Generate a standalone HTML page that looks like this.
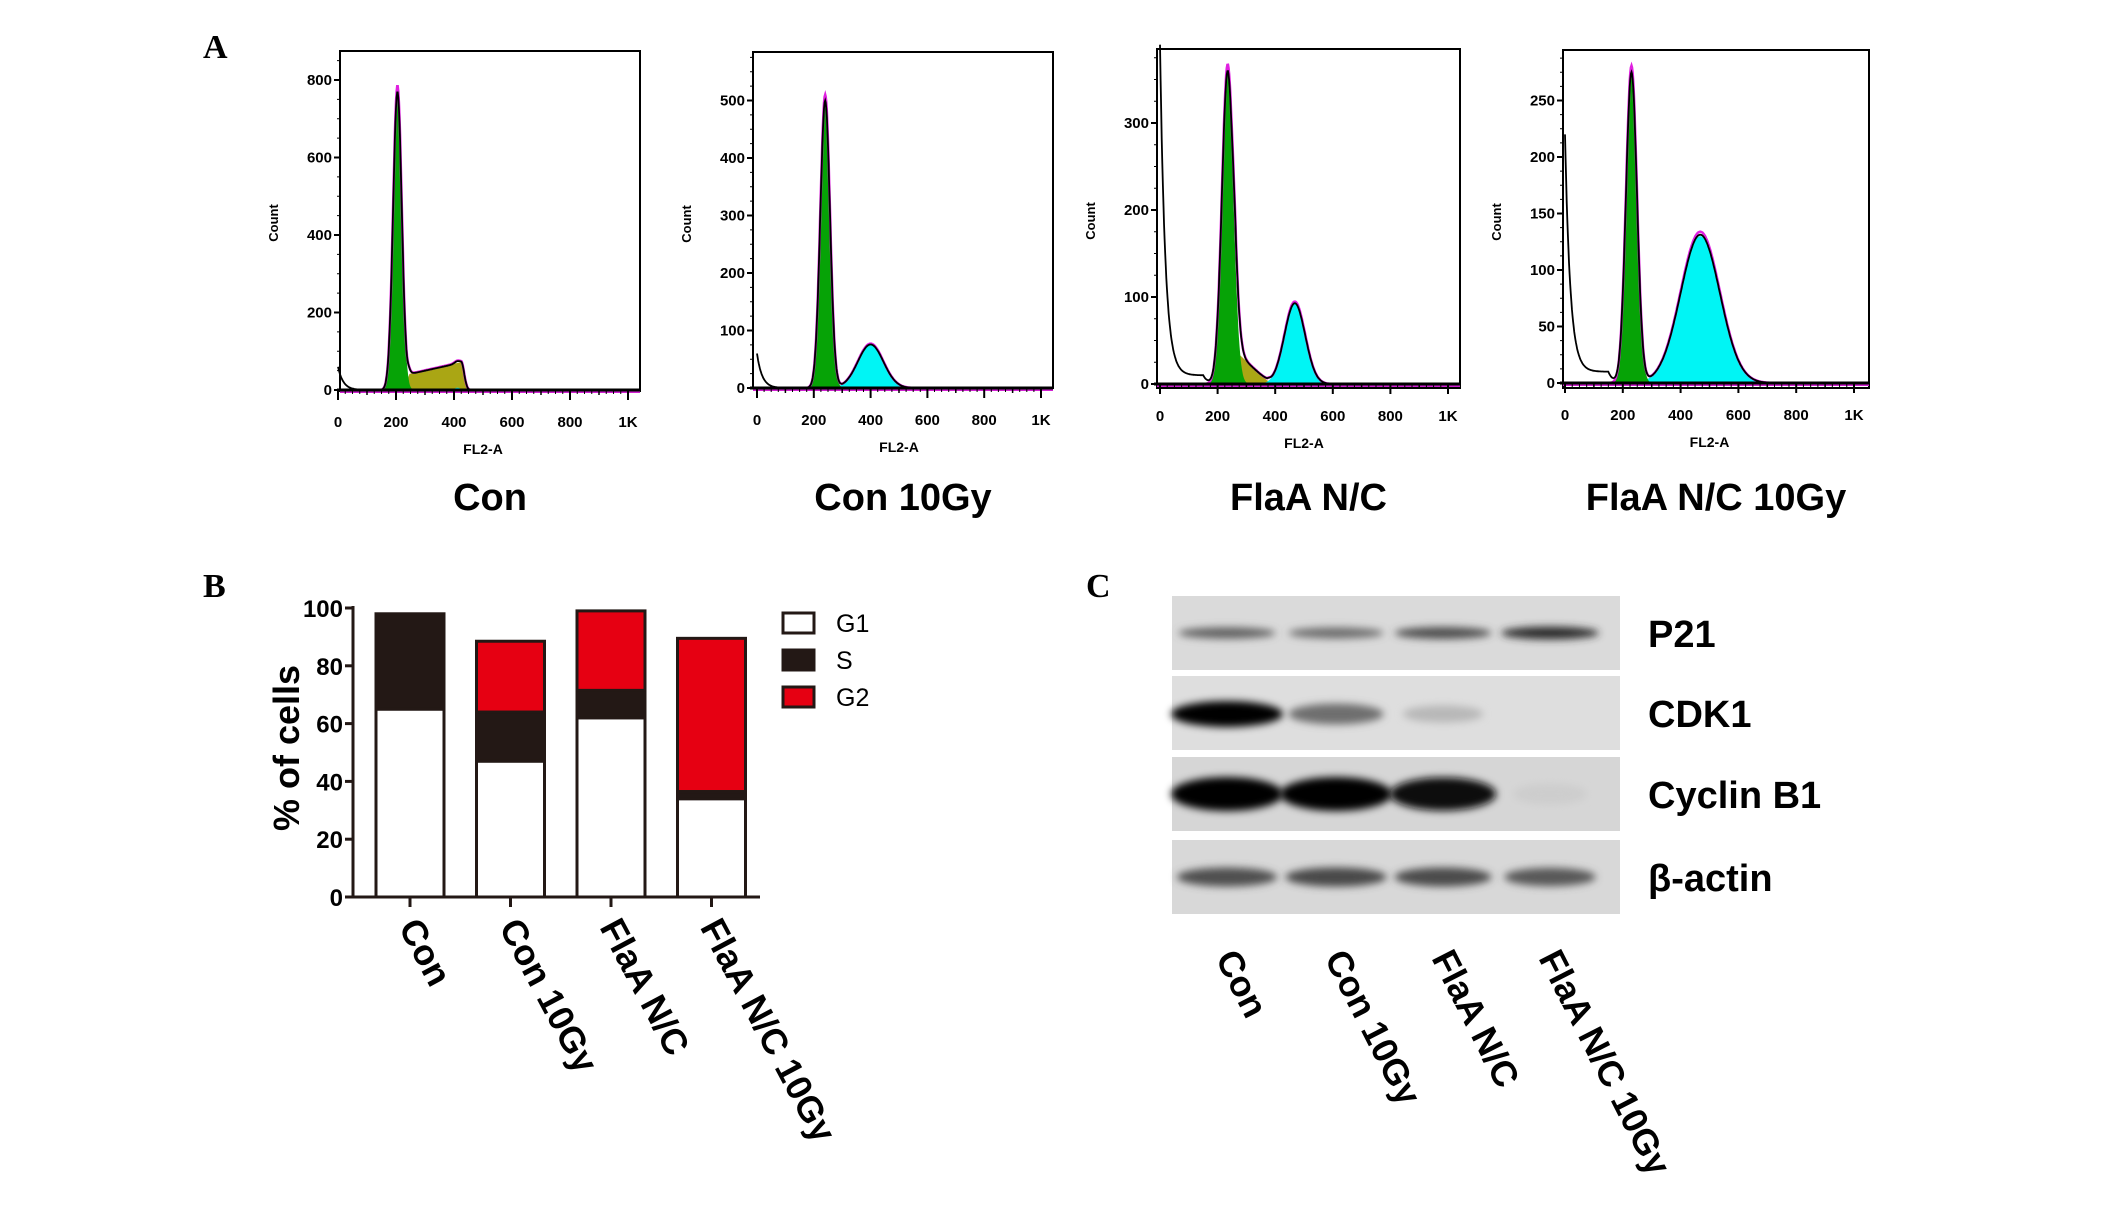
<!DOCTYPE html>
<html><head><meta charset="utf-8">
<style>
html,body{margin:0;padding:0;background:#fff;}
svg{display:block;}
text{font-family:"Liberation Sans",sans-serif;}
text.serif{font-family:"Liberation Serif",serif;}
</style></head>
<body>
<svg id="fig" xmlns="http://www.w3.org/2000/svg" width="2126" height="1211" viewBox="0 0 2126 1211">
<defs>
<filter id="blur" x="-20%" y="-80%" width="140%" height="260%"><feGaussianBlur stdDeviation="4"/></filter>
</defs>
<rect width="2126" height="1211" fill="#fff"/>
<text class="serif" x="203" y="58" font-weight="bold" font-size="34">A</text>
<text class="serif" x="203" y="597" font-weight="bold" font-size="34">B</text>
<text class="serif" x="1086" y="597" font-weight="bold" font-size="34">C</text>
<g id="panelA"></g>
<g id="panelB"></g>
<g id="panelC"></g>
</svg>
<script>
// ---------- Panel A data ----------
const histTitles = ["Con", "Con 10Gy", "FlaA N/C", "FlaA N/C 10Gy"];
const yTickLabels = [["0","200","400","600","800"],["0","100","200","300","400","500"],["0","100","200","300"],["0","50","100","150","200","250"]];
const yTickValues = [[0,200,400,600,800],[0,100,200,300,400,500],[0,100,200,300],[0,50,100,150,200,250]];
const xTickValues = [0,200,400,600,800,1000];
const xTickLabels = ["0","200","400","600","800","1K"];
// G1 peak: center, height, sd
const g1Center = [205, 240, 235, 230];
const g1Height = [770, 500, 360, 275];
const g1Sd = [15, 17, 20, 19];
// S phase (trapezoid): start, end, start height, end height
const sStart = [248, 0, 262, 0];
const sEnd = [425, 0, 372, 0];
const sH1 = [42, 0, 38, 0];
const sH2 = [72, 0, 4, 0];
// G2 peak: center, height, sd
const g2Center = [412, 400, 468, 468];
const g2Height = [6, 75, 92, 130];
const g2Sd = [10, 45, 36, 68];
// debris near zero
const debrisHeight = [60, 60, 380, 210];
const debrisFloor = [0, 0, 10, 10];

// layout of histograms (pixel geometry)
const histGeom = [
 {bx:340,by:51,bw:300,bh:340,x0:338,x1000:628,y0:390,ppc:0.3875},
 {bx:753,by:52,bw:300,bh:336,x0:757,x1000:1041,y0:388,ppc:0.575},
 {bx:1157,by:49,bw:303,bh:339,x0:1160,x1000:1448,y0:384,ppc:0.87},
 {bx:1563,by:50,bw:306,bh:338,x0:1565,x1000:1854,y0:383,ppc:1.13}
];
const NS="http://www.w3.org/2000/svg";
function el(tag, attrs, parent){const e=document.createElementNS(NS,tag);for(const k in attrs)e.setAttribute(k,attrs[k]);parent.appendChild(e);return e;}
const A=document.getElementById('panelA');
function gauss(x,c,h,s){return h*Math.exp(-0.5*((x-c)/s)**2);}
function sComp(i,x){const a=sStart[i],b=sEnd[i];if(b<=a)return 0;
  let v; if(x<a) v=sH1[i]*Math.exp(-0.5*((x-a)/8)**2); else if(x>b) v=sH2[i]*Math.exp(-0.5*((x-b)/10)**2); else v=sH1[i]+(sH2[i]-sH1[i])*(x-a)/(b-a);
  return v;}
function debris(i,x){return debrisHeight[i]*Math.exp(-x/18)+debrisFloor[i]*(x<150?1:Math.exp(-(x-150)/15));}
histTitles.forEach((t,i)=>{
  const g=histGeom[i];
  const grp=el('g',{},A);
  
  
  const X=v=>g.x0+(g.x1000-g.x0)*v/1000;
  const Y=c=>g.y0-Math.min(c*g.ppc, g.y0-g.by+5);
  const xs=[];for(let v=0;v<=1024;v+=2)xs.push(v);
  const area=(f,color,name)=>{let d='M'+X(0)+','+Y(0);xs.forEach(v=>{d+=' L'+X(v).toFixed(1)+','+Y(f(v)).toFixed(1);});d+=' L'+X(1024)+','+Y(0)+'Z';
    const p=el('path',{d:d,fill:color},grp);};
  area(v=>sComp(i,v),'#aaa614','s-phase-fill');
  area(v=>gauss(v,g2Center[i],g2Height[i],g2Sd[i]),'#00f5f5','g2-fill');
  area(v=>gauss(v,g1Center[i],g1Height[i],g1Sd[i]),'#06a306','g1-fill');
  const line=(f,color,w,name)=>{let d='';xs.forEach((v,k)=>{d+=(k?' L':'M')+X(v).toFixed(1)+','+Y(f(v)).toFixed(1);});
    const p=el('path',{d:d,fill:'none',stroke:color,'stroke-width':w},grp);};
  const model=v=>gauss(v,g1Center[i],g1Height[i]*1.02,g1Sd[i])+sComp(i,v)+gauss(v,g2Center[i],g2Height[i]*1.03,g2Sd[i]);
  line(model,'#e020e0',2.5,'model-fit-line');
  line(v=>model(v)*0.98+debris(i,v),'#000',1.8,'data-line');
  const box=el('rect',{x:g.bx,y:g.by,width:g.bw,height:g.bh,fill:'none',stroke:'#000','stroke-width':2},grp);
  
  el('line',{x1:g.bx,y1:g.y0+2,x2:g.bx+g.bw,y2:g.y0+2,stroke:'#d020d0','stroke-width':2},grp);
  el('line',{x1:g.bx-3,y1:g.y0,x2:g.bx+g.bw,y2:g.y0,stroke:'#000','stroke-width':3},grp);
  xTickValues.forEach((v,k)=>{
    el('line',{x1:X(v),y1:g.y0,x2:X(v),y2:g.y0+10,stroke:'#000','stroke-width':2},grp);
    if(k<5) el('line',{x1:X(v+100),y1:g.y0,x2:X(v+100),y2:g.y0+5,stroke:'#000','stroke-width':1.5},grp);
    for(let m=25;m<200;m+=25){ if(v+m<=1024) el('line',{x1:X(v+m),y1:g.y0,x2:X(v+m),y2:g.y0+4,stroke:'#000','stroke-width':1},grp);}
    const tx=el('text',{x:X(v),y:g.y0+37,'font-size':15,'font-weight':'bold','text-anchor':'middle'},grp);
    tx.textContent=xTickLabels[k];
    
  });
  yTickValues[i].forEach((v,k)=>{
    const yy=Y(v);
    el('line',{x1:g.bx-6,y1:yy,x2:g.bx,y2:yy,stroke:'#000','stroke-width':2},grp);
    const tx=el('text',{x:g.bx-8,y:yy+5,'font-size':15,'font-weight':'bold','text-anchor':'end'},grp);
    tx.textContent=yTickLabels[i][k];
    
  });
  const step=yTickValues[i][1]/4;
  for(let v=step;v*g.ppc<g.y0-g.by;v+=step){el('line',{x1:g.bx-3,y1:Y(v),x2:g.bx,y2:Y(v),stroke:'#000','stroke-width':1},grp);}
  const xl=el('text',{x:(g.x0+g.x1000)/2,y:g.y0+64,'font-size':14,'font-weight':'bold','text-anchor':'middle'},grp);
  xl.textContent='FL2-A';
  const yl=el('text',{x:0,y:0,'font-size':13,'font-weight':'bold','text-anchor':'middle',transform:'translate('+(g.bx-62)+','+(g.by+172)+') rotate(-90)'},grp);
  yl.textContent='Count';
  const tt=el('text',{x:g.bx+g.bw/2,y:510,'font-size':38,'font-weight':'bold','text-anchor':'middle'},grp);
  tt.textContent=t;
});

// ---------- Panel B data ----------
const barCategories = ["Con", "Con 10Gy", "FlaA N/C", "FlaA N/C 10Gy"];
const g1Values = [65, 47, 62, 34];
const sValues = [33, 17, 9.5, 2.5];
const g2Values = [0, 24.5, 27.5, 53];
const bTickValues = [0,20,40,60,80,100];
const legendLabels = ["G1","S","G2"];
(function(){
  const B=document.getElementById('panelB');
  const axX=353, y0=897, y100=608, barW=68, first=376, gap=100.5;
  const Yb=v=>y0-(y0-y100)*v/100;
  const colors=['#fff','#231815','#e60012'];
  const series=[g1Values,sValues,g2Values];
  barCategories.forEach((c,i)=>{
    const x=first+i*gap; let base=0;
    series.forEach((arr,s)=>{
      const v=arr[i]; if(v<=0) return;
      const r=el('rect',{x:x,y:Yb(base+v),width:barW,height:Yb(base)-Yb(base+v),fill:colors[s],stroke:'#231815','stroke-width':3},B);
      
      
      base+=v;
    });
    el('line',{x1:x+barW/2,y1:y0,x2:x+barW/2,y2:y0+10,stroke:'#231815','stroke-width':3},B);
    const tx=el('text',{x:0,y:0,'font-size':36,'font-weight':'bold',transform:'translate('+(x+barW/2-12)+','+(y0+30)+') rotate(62)'},B);
    tx.textContent=c;
  });
  el('line',{x1:axX,y1:y100-2,x2:axX,y2:y0,stroke:'#231815','stroke-width':3},B);
  el('line',{x1:axX,y1:y0,x2:760,y2:y0,stroke:'#231815','stroke-width':3},B);
  bTickValues.forEach(v=>{
    el('line',{x1:axX-8,y1:Yb(v),x2:axX,y2:Yb(v),stroke:'#231815','stroke-width':3},B);
    const tx=el('text',{x:axX-10,y:Yb(v)+9,'font-size':24,'font-weight':'bold','text-anchor':'end'},B);
    tx.textContent=v;
  });
  const yt=el('text',{x:0,y:0,'font-size':36,'font-weight':'bold','text-anchor':'middle',transform:'translate(299,748) rotate(-90)'},B);
  yt.textContent='% of cells';
  legendLabels.forEach((l,k)=>{
    const y=613+k*37;
    const r=el('rect',{x:783,y:y,width:31,height:20,fill:colors[k],stroke:'#231815','stroke-width':3},B);
    
    const tx=el('text',{x:836,y:y+19,'font-size':25},B);
    tx.textContent=l;
  });
})();

// ---------- Panel C data ----------
const blotProteins = ["P21","CDK1","Cyclin B1","β-actin"];
const blotLanes = ["Con","Con 10Gy","FlaA N/C","FlaA N/C 10Gy"];
const p21Intensity = [0.55, 0.5, 0.65, 0.8];
const cdk1Intensity = [1.0, 0.5, 0.15, 0.0];
const cyclinIntensity = [1.0, 1.0, 0.95, 0.05];
const actinIntensity = [0.65, 0.68, 0.66, 0.6];
(function(){
  const C=document.getElementById('panelC');
  const rows=[{y:596,h:74,bg:'#dadada',arr:p21Intensity,bh:14},{y:676,h:74,bg:'#dedede',arr:cdk1Intensity,bh:26},{y:757,h:74,bg:'#d6d6d6',arr:cyclinIntensity,bh:34},{y:840,h:74,bg:'#d8d8d8',arr:actinIntensity,bh:22}];
  const laneC=[1227,1336,1443,1550], laneW=[112,112,108,104];
  rows.forEach((r,ri)=>{
    const bg=el('rect',{x:1172,y:r.y,width:448,height:r.h,fill:r.bg},C);
    
    r.arr.forEach((v,li)=>{
      if(v<=0.01) return;
      const g=Math.round(215-210*v);
      const e=el('ellipse',{cx:laneC[li],cy:r.y+r.h/2+(ri==1?1:0),rx:laneW[li]/2*(0.7+0.3*v),ry:r.bh/2*(0.6+0.4*v),fill:'rgb('+g+','+g+','+g+')',filter:'url(#blur)'},C);
      
    });
    const t=el('text',{x:1648,y:r.y+r.h/2+14,'font-size':38,'font-weight':'bold'},C);
    t.textContent=blotProteins[ri];
  });
  blotLanes.forEach((l,li)=>{
    const t=el('text',{x:0,y:0,'font-size':36,'font-weight':'bold',transform:'translate('+(laneC[li]-12)+',958) rotate(63)'},C);
    t.textContent=l;
  });
})();
</script>
</body></html>
